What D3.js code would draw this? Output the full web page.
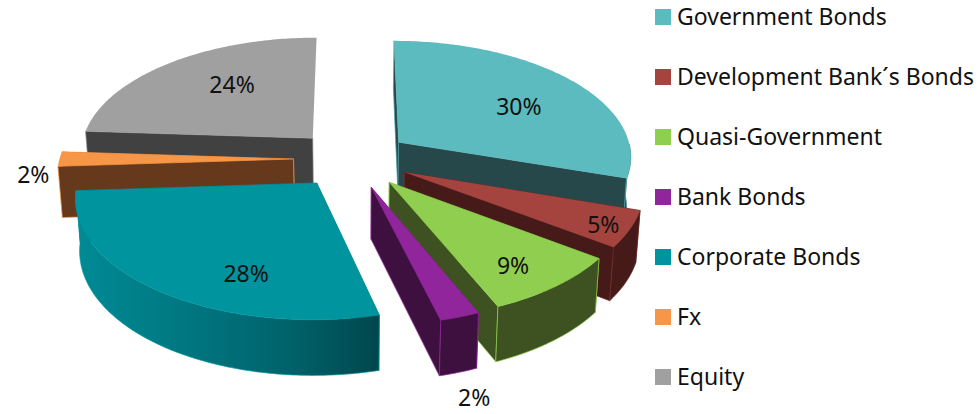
<!DOCTYPE html>
<html><head><meta charset="utf-8">
<script src="https://cdn.jsdelivr.net/npm/d3@7/dist/d3.min.js"></script>
<style>html,body{margin:0;padding:0;background:#fff;overflow:hidden}svg{display:block}text{font-family:"Noto Sans","Open Sans",sans-serif;fill:#111}</style>
</head><body><svg id="c" width="979" height="414"></svg>
<script>
const categories = ["Government Bonds","Development Bank´s Bonds","Quasi-Government","Bank Bonds","Corporate Bonds","Fx","Equity"];
const values = [30,5,8.6,2.4,28,2,24];
const topColors = ["#5CBBBE","#A5443F","#8FCE4E","#91259B","#00949F","#F79646","#A0A0A0"];
const wallColors = ["#26484B","#451A18","#3D5220","#3D103F","#004A50","#66391C","#414141"];
const edgeColors = ["#4E9DA0","#6E2C28","#8FCE4E","#91259B","#00949F","#F79646","#8a8a8a"];
const paintOrder = [6,0,5,1,2,3,4];
const labelDeg = [59,117.5,143.5,166.5,201,263.4,323.5];
const labelRad = [0.64,0.89,0.79,1.48,0.73,1.10,0.64];

const svg = d3.select("#c");
const cx=352, cy=159, Rx=234, Ry=116, persp=0.11, explode=0.25, depth=51, baseShrink=0.985;

const defs = svg.append("defs");
const grad = defs.append("linearGradient").attr("id","tealRim").attr("gradientUnits","userSpaceOnUse")
  .attr("x1",80).attr("x2",380).attr("y1",0).attr("y2",0);
[[0,"#008A94"],[0.35,"#007781"],[0.7,"#00626A"],[1,"#00464C"]].forEach(s=>grad.append("stop").attr("offset",s[0]).attr("stop-color",s[1]));

const pie = d3.pie().sort(null).value(d=>d);
const arcs = pie(values);
const xScale = d3.scaleLinear().domain([-1,1]).range([cx-Rx,cx+Rx]);
const yScale = d3.scaleLinear().domain([-1,1]).range([cy-Ry,cy+Ry]);

function project(mid, theta, r, base){
  const X = r*Math.sin(theta)+explode*Math.sin(mid);
  const V = -r*Math.cos(theta)-explode*Math.cos(mid);
  const w = 1/(1-persp*V);
  let sx = xScale(X*w), sy = yScale(V*w);
  if(base){ sx = cx+(sx-cx)*baseShrink; sy += depth*(0.4+0.6*w); }
  return [sx,sy];
}
const line = d3.line().curve(d3.curveLinear);
const closed = pts => line(pts)+"Z";

paintOrder.forEach(i=>{
  const a = arcs[i], mid=(a.startAngle+a.endAngle)/2;
  const n = Math.max(4,Math.ceil((a.endAngle-a.startAngle)/0.015));
  const thetas = d3.range(n+1).map(k=>a.startAngle+(a.endAngle-a.startAngle)*k/n);
  const topRim = thetas.map(t=>project(mid,t,1,false));
  const g = svg.append("g");
  const wall = (pts,fill)=>g.append("path").attr("d",closed(pts)).attr("fill",fill)
     .attr("stroke",edgeColors[i]).attr("stroke-width",0.7).attr("stroke-linejoin","round");
  const apexT = project(mid,0,0,false), apexB = project(mid,0,0,true);
  const faces = [a.startAngle,a.endAngle]
    .filter(t=>!(t===a.endAngle && Math.cos(t)>0.9))
    .sort((p,q)=>project(mid,p,1,false)[1]-project(mid,q,1,false)[1]);
  faces.forEach(t=>wall([apexT,project(mid,t,1,false),project(mid,t,1,true),apexB],wallColors[i]));
  const front = thetas.filter(t=>Math.cos(t)<0);
  if(front.length>1 && front[front.length-1]-front[0]>0.1){
    const ft = front.map(t=>project(mid,t,1,false));
    const fb = front.map(t=>project(mid,t,1,true));
    wall(ft.concat(fb.reverse()), i===4?"url(#tealRim)":wallColors[i]);
  }
  g.append("path").attr("d",closed([apexT].concat(topRim))).attr("fill",topColors[i]);
});

arcs.forEach((a,i)=>{
  const mid=(a.startAngle+a.endAngle)/2;
  const p = project(mid,labelDeg[i]*Math.PI/180,labelRad[i],false);
  svg.append("text").attr("x",p[0]).attr("y",p[1]).attr("text-anchor","middle")
    .attr("dominant-baseline","central").attr("font-size",23).text(Math.round(values[i])+"%");
});

const legendY = d3.scalePoint().domain(categories).range([17,377]);
categories.forEach((c,i)=>{
  const y=legendY(c);
  svg.append("rect").attr("x",655).attr("y",y-8).attr("width",16).attr("height",16).attr("fill",topColors[i]);
  svg.append("text").attr("x",677).attr("y",y-1).attr("dominant-baseline","central").attr("font-size",23).text(c);
});
</script></body></html>
